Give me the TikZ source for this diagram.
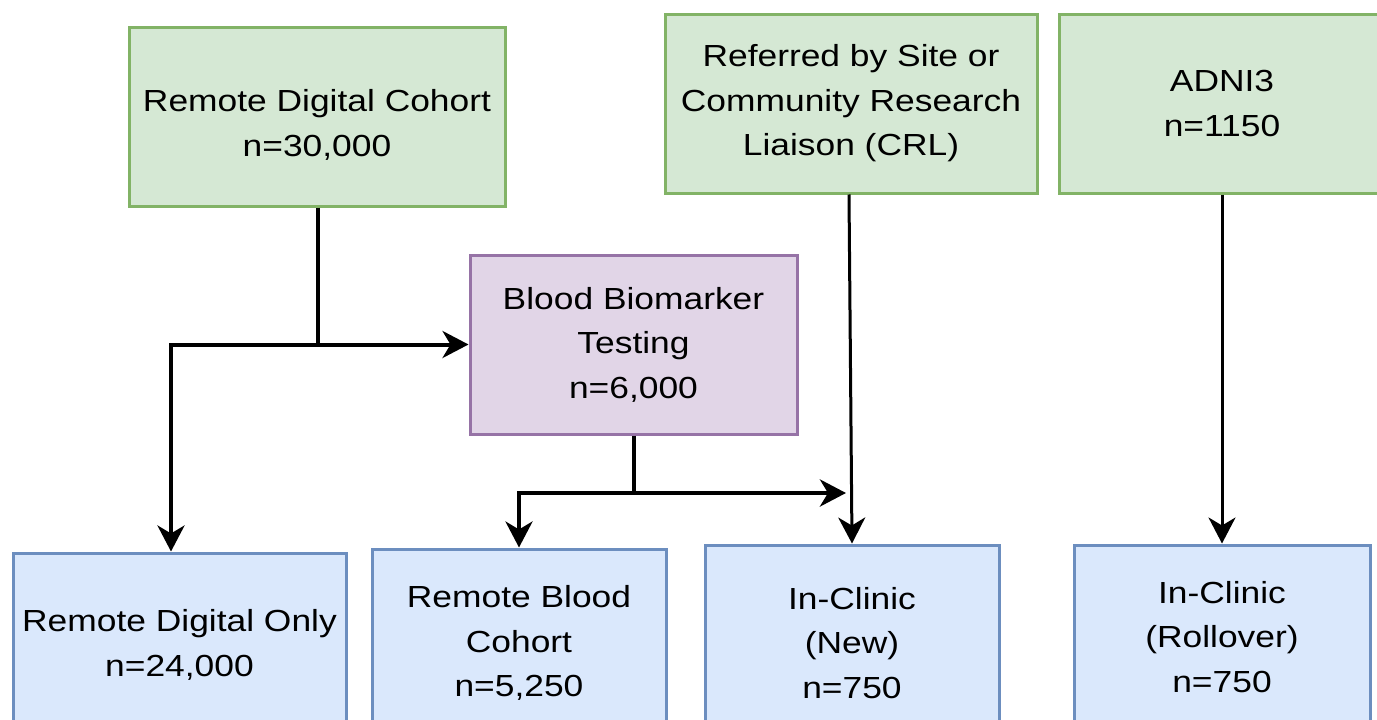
\documentclass[tikz,border=0pt]{standalone}
\usepackage{fontspec}
\setmainfont[FakeStretch=1.16]{Liberation Sans}
\usetikzlibrary{arrows.meta,calc}
\definecolor{gfill}{HTML}{D5E8D4}
\definecolor{gline}{HTML}{82B366}
\definecolor{pfill}{HTML}{E1D5E7}
\definecolor{pline}{HTML}{9673A6}
\definecolor{bfill}{HTML}{DAE8FC}
\definecolor{bline}{HTML}{6C8EBF}
\begin{document}
\begin{tikzpicture}[x=1pt,y=-1pt,
  txt/.style={align=center,inner sep=0pt,font=\fontsize{30.5}{44.5}\selectfont},
  box/.style={rectangle,line width=3pt,txt},
  gbox/.style={box,fill=gfill,draw=gline},
  pbox/.style={box,fill=pfill,draw=pline},
  bbox/.style={box,fill=bfill,draw=bline},
  conn/.style={line width=4pt,draw=black},
  thin/.style={line width=3pt},
  arr/.style={conn,-{Stealth[length=26pt,width=27pt,inset=8pt]}}]
\useasboundingbox (0,0) rectangle (1377,720);
\begin{scope}
\clip (0,0) rectangle (1377,720);
\node[gbox,minimum width=376pt,minimum height=179pt] (rdc) at (317,116.5) {};
\node[txt] (rdct) at (317,125) {Remote Digital Cohort\\n=30,000};
\node[gbox,minimum width=372pt,minimum height=179pt] (ref) at (851,103.5) {Referred by Site or\\Community Research\\Liaison (CRL)};
\node[gbox,minimum width=326pt,minimum height=179pt] (adni) at (1222,103.5) {ADNI3\\n=1150};
\node[pbox,minimum width=327pt,minimum height=179pt] (bbt) at (633.5,344.5) {Blood Biomarker\\Testing\\n=6,000};
\node[bbox,minimum width=333pt,minimum height=184pt] (rdo) at (179.5,645) {Remote Digital Only\\n=24,000};
\node[bbox,minimum width=294pt,minimum height=188pt] (rbc) at (519,643) {Remote Blood\\Cohort\\n=5,250};
\node[bbox,minimum width=294pt,minimum height=196pt] (icn) at (852,643) {In-Clinic\\(New)\\n=750};
\node[bbox,minimum width=296pt,minimum height=184pt] (icr) at (1222,637) {In-Clinic\\(Rollover)\\n=750};
\end{scope}
\coordinate (j1) at (318,344.5);
\coordinate (j2) at (633.5,493);
\coordinate (j3) at (846,493);
\coordinate (t1) at ($(rdo.north)+(-8.5,0)$);
\draw[conn] (rdc.south -| j1) -- (j1);
\draw[arr] (j1) -- (bbt.west);
\draw[arr] (j1) -| (t1);
\draw[conn] (bbt.south) -- (j2);
\draw[arr,line width=4.5pt] (j2) -- (j3);
\draw[arr] (j2) -| (rbc.north);
\draw[arr,thin] ($(ref.south)+(-2,0)$) -- (icn.north);
\draw[arr,thin] (adni.south) -- (icr.north);
\end{tikzpicture}
\end{document}
